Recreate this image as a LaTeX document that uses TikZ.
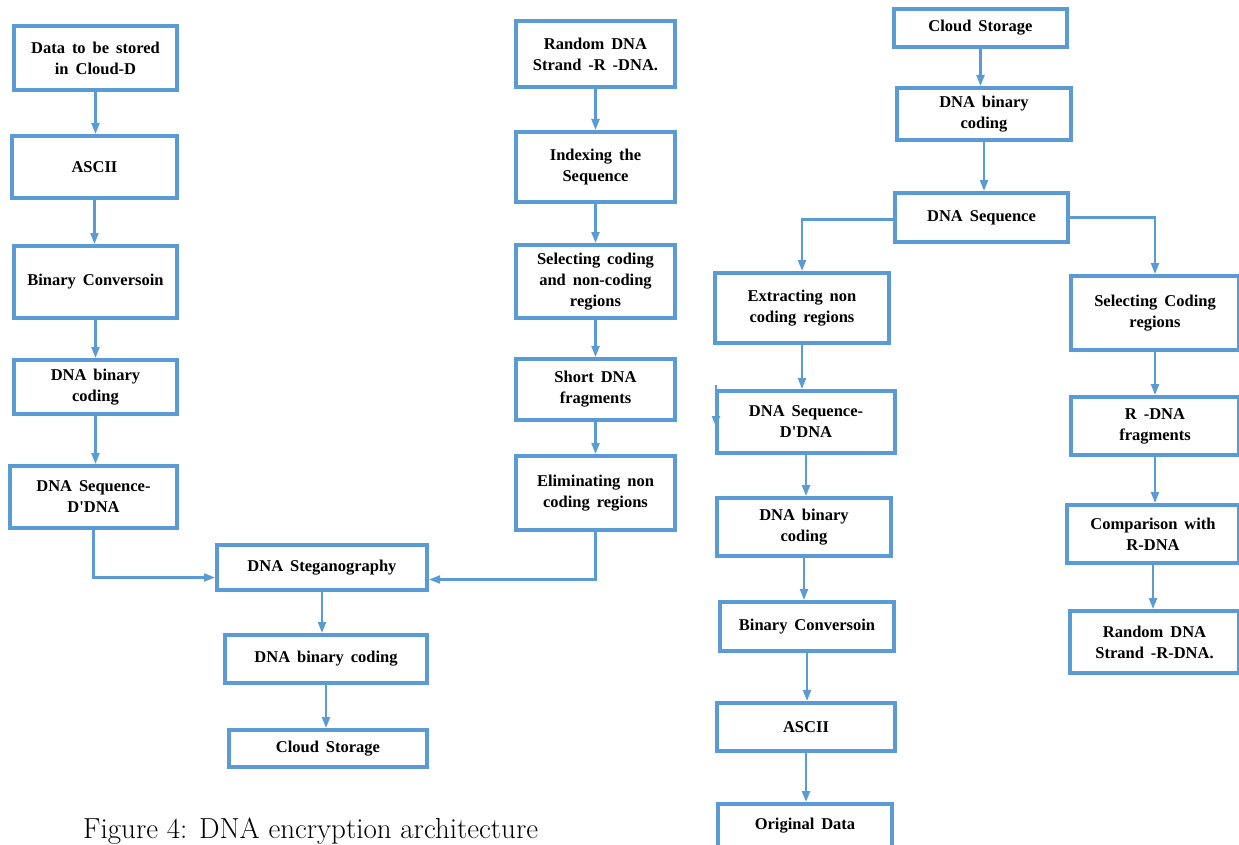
\documentclass[tikz,border=0pt]{standalone}
\usepackage{fontspec}
\newfontfamily\boxfont{Liberation Serif}
\newcommand\boxfontsel{\boxfont\bfseries\fontsize{16.5}{21}\selectfont\spaceskip=0.42em\relax}
\usetikzlibrary{arrows.meta}
\definecolor{boxblue}{RGB}{91,155,213}
\begin{document}
\begin{tikzpicture}[x=1pt,y=-1pt,
  box/.style={draw=boxblue, line width=4pt, fill=white, align=center, inner sep=0pt,
    font=\boxfontsel},
  conn/.style={draw=boxblue, line width=2.2pt, -{Triangle[width=8pt,length=11pt]}}]
\useasboundingbox (0,0) rectangle (1239,845);
\clip (0,0) rectangle (1239,845);
% left column
\node[box, minimum width=163, minimum height=64] (L1) at (95.5,58) {Data to be stored\\in Cloud-D};
\node[box, minimum width=165, minimum height=62] (L2) at (94.5,167) {ASCII};
\node[box, minimum width=163, minimum height=72] (L3) at (95.5,282) {Binary Conversoin};
\node[box, minimum width=163, minimum height=54] (L4) at (95.5,387) {DNA binary\\coding};
\node[box, minimum width=167, minimum height=62] (L5) at (93.5,497) {DNA Sequence-\\D'DNA};
\node[box, minimum width=210, minimum height=45] (Steg) at (322,567.5) {DNA Steganography};
\node[box, minimum width=202, minimum height=48] (L7) at (326,659) {DNA binary coding};
\node[box, minimum width=198, minimum height=37] (L8) at (328,748.5) {Cloud Storage};
% middle column
\node[box, minimum width=159, minimum height=66] (M9) at (595.5,54) {Random DNA\\Strand -R -DNA.};
\node[box, minimum width=159, minimum height=70] (M10) at (595.5,167) {Indexing the\\Sequence};
\node[box, minimum width=159, minimum height=73] (M11) at (595.5,281.5) {Selecting coding\\and non-coding\\regions};
\node[box, minimum width=159, minimum height=61] (M12) at (595.5,389.5) {Short DNA\\fragments};
\node[box, minimum width=159, minimum height=74] (M13) at (595.5,493) {Eliminating non\\coding regions};
% right part
\node[box, minimum width=173, minimum height=38] (R14) at (980.5,28) {Cloud Storage};
\node[box, minimum width=174, minimum height=52] (R15) at (984,114) {DNA binary\\coding};
\node[box, minimum width=173, minimum height=49] (R16) at (981.5,217.5) {DNA Sequence};
\node[box, minimum width=174, minimum height=70] (R17) at (802,308) {Extracting non\\coding regions};
\node[box, minimum width=178, minimum height=62] (R18) at (806,422) {DNA Sequence-\\D'DNA};
\node[box, minimum width=174, minimum height=58] (R19) at (804,527) {DNA binary\\coding};
\node[box, minimum width=174, minimum height=49] (R20) at (807,626.5) {Binary Conversoin};
\node[box, minimum width=178, minimum height=48] (R21) at (806,727) {ASCII};
\node[box, minimum width=174, minimum height=44] (R22) at (805,826) {Original Data};
\node[box, minimum width=168, minimum height=74] (R23) at (1155,313) {Selecting Coding\\regions};
\node[box, minimum width=168, minimum height=58] (R24) at (1155,426) {R -DNA\\fragments};
\node[box, minimum width=172, minimum height=58] (R25) at (1153,534) {Comparison with\\R-DNA};
\node[box, minimum width=169, minimum height=62] (R26) at (1154.5,642) {Random DNA\\Strand -R-DNA.};
% caption
\node[anchor=base west, inner sep=0pt, font=\fontsize{29}{33}\selectfont] (cap) at (83,838) {Figure 4: DNA encryption architecture};
% connectors
\foreach \a/\b in {L1/L2,L2/L3,L3/L4,L4/L5,Steg/L7,L7/L8,M9/M10,M10/M11,M11/M12,M12/M13,
  R14/R15,R15/R16,R17/R18,R18/R19,R19/R20,R20/R21,R21/R22,R23/R24,R24/R25,R25/R26}
  \draw[conn] (\a.south) -- (\a.south |- \b.north);
\draw[conn] (L5.south) |- ([yshift=-10pt]Steg.west);
\draw[conn] (M13.south) |- ([yshift=-12pt]Steg.east);
\draw[conn] ([yshift=-2pt]R16.west) -| (R17.north);
\draw[conn] (R16.east) -| (R23.north);
\coordinate (stubA) at (716,385);
\coordinate (stubB) at (716,427);
\draw[conn] (stubA) -- (stubB);
\end{tikzpicture}
\end{document}
